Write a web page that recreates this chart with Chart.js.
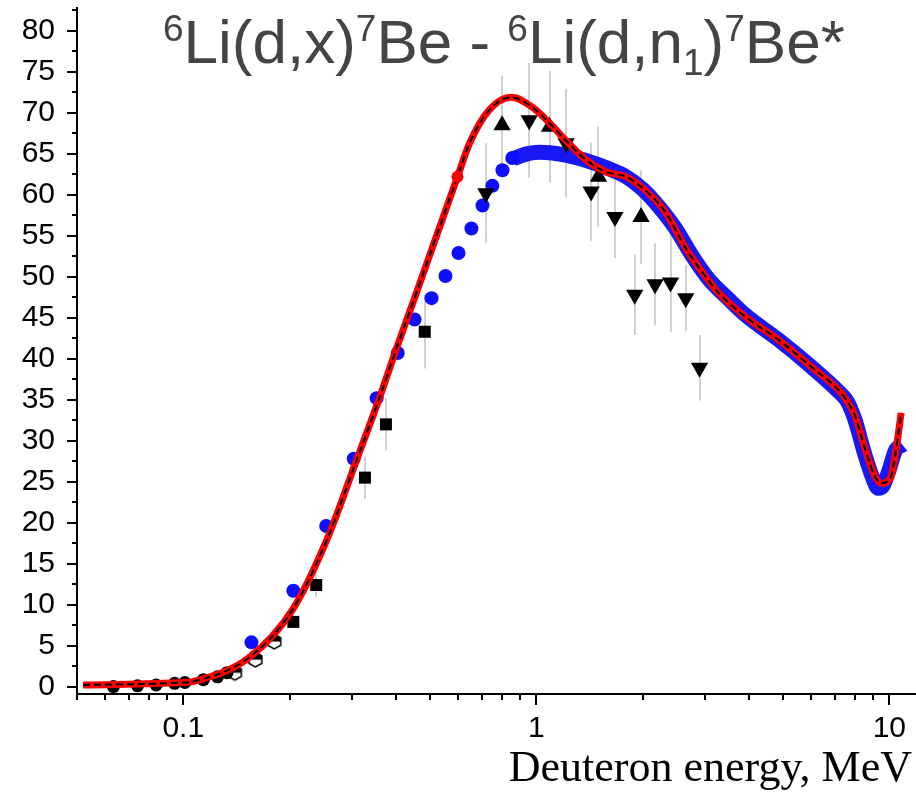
<!DOCTYPE html>
<html>
<head>
<meta charset="utf-8">
<script src="https://cdn.jsdelivr.net/npm/chart.js@4.4.1/dist/chart.umd.min.js"></script>
<style>
  html, body { margin: 0; padding: 0; background: #fff; }
</style>
</head>
<body>
<canvas id="chart" width="916" height="797"></canvas>
<script>
// evaluated curve (red, with black dashed overlay)
const evalE = [0.052, 0.10, 0.106, 0.153, 0.204, 0.255, 0.31, 0.36, 0.402, 0.452, 0.508, 0.598, 0.647, 0.737, 0.85, 0.974, 1.088, 1.215, 1.38, 1.58, 1.80, 2.08, 2.33, 2.65, 3.02, 3.29, 3.92, 4.86, 6.02, 7.18, 7.55, 8.0, 8.55, 9.12, 9.49, 10.1, 10.45, 10.8];
const evalXs = [0.2, 0.5, 0.6, 3.5, 9.4, 17.9, 27.7, 35.3, 41.3, 47.4, 53.6, 62.2, 66.3, 70.4, 71.9, 70.7, 68.8, 66.6, 64.3, 62.8, 62.2, 60.2, 57.8, 53.5, 50.0, 48.0, 45.1, 42.3, 39.0, 36.2, 35.0, 33.0, 28.9, 25.6, 24.8, 25.6, 28.9, 33.4];
const redDotE = [0.598];
const redDotXs = [62.2];

// blue circles (sparse part) and dense blue band
const blueE = [0.156, 0.205, 0.254, 0.304, 0.353, 0.405, 0.452, 0.505, 0.553, 0.602, 0.655, 0.704, 0.751, 0.802, 0.855];
const blueXs = [5.4, 11.7, 19.6, 27.8, 35.2, 40.7, 44.8, 47.4, 50.1, 52.9, 55.9, 58.7, 61.1, 63.0, 64.5];
const bandE = [0.86, 0.94, 1.02, 1.11, 1.22, 1.38, 1.58, 1.80, 2.0, 2.22, 2.48, 2.76, 3.08, 3.5, 3.92, 4.86, 6.02, 7.18, 7.6, 8.0, 8.5, 9.0, 9.3, 9.6, 10.0, 10.4, 10.9];
const bandXs = [64.4, 65.0, 65.2, 65.1, 64.8, 64.2, 63.3, 62.2, 60.7, 58.6, 55.9, 52.6, 49.7, 47.3, 45.3, 42.3, 39.0, 36.0, 34.8, 32.5, 28.5, 25.3, 24.2, 24.5, 26.5, 28.8, 29.5];

// experimental points
const squareE = [0.205, 0.238, 0.327, 0.375, 0.483];
const squareXs = [7.9, 12.4, 25.5, 32.0, 43.3];
const squareErr = [0.5, 1.5, 2.6, 3.2, 4.5];

const upE = [0.80, 1.09, 1.50, 1.98];
const upXs = [68.5, 68.3, 62.2, 57.3];
const upErr = [6.0, 6.8, 6.1, 5.7];

const downE = [0.72, 0.955, 1.215, 1.43, 1.67, 1.90, 2.17, 2.40, 2.65, 2.90];
const downXs = [60.2, 69.1, 66.3, 60.4, 57.3, 47.8, 49.1, 49.3, 47.4, 38.9];
const downErr = [6.1, 7.0, 6.6, 6.0, 5.0, 4.9, 5.0, 6.0, 4.0, 4.0];

const circleE = [0.0634, 0.0742, 0.0838, 0.0945, 0.101, 0.114, 0.125, 0.133];
const circleXs = [0.0, 0.1, 0.2, 0.4, 0.5, 0.85, 1.2, 1.7];

const hexE = [0.14, 0.16, 0.181];
const hexXs = [1.7, 3.3, 5.5];

// axes
const xTicks = [0.1, 1, 10];
const xTickLabels = ['0.1', '1', '10'];
const xMinor = [0.05, 0.06, 0.07, 0.08, 0.09, 0.2, 0.3, 0.4, 0.5, 0.6, 0.7, 0.8, 0.9, 2, 3, 4, 5, 6, 7, 8, 9];
const yTicks = [0, 5, 10, 15, 20, 25, 30, 35, 40, 45, 50, 55, 60, 65, 70, 75, 80];
const yMinor = [2.5, 7.5, 12.5, 17.5, 22.5, 27.5, 32.5, 37.5, 42.5, 47.5, 52.5, 57.5, 62.5, 67.5, 72.5, 77.5, 82.5];

const titleParts = [['6', 'sup'], ['Li(d,x)', ''], ['7', 'sup'], ['Be - ', ''], ['6', 'sup'], ['Li(d,n', ''], ['1', 'sub'], [')', ''], ['7', 'sup'], ['Be*', '']];
const xTitle = 'Deuteron energy, MeV';

const pts = (xs, ys) => xs.map((x, i) => ({x: x, y: ys[i]}));

function makeHex(r) {
  const c = document.createElement('canvas');
  const s = Math.ceil(r * 2 + 4);
  c.width = s;
  c.height = s;
  const g = c.getContext('2d');
  const cx = s / 2, cy = s / 2;
  g.beginPath();
  for (let i = 0; i < 6; i++) {
    const a = Math.PI / 180 * (60 * i - 90);
    const px = cx + r * Math.cos(a), py = cy + r * Math.sin(a);
    if (i) g.lineTo(px, py); else g.moveTo(px, py);
  }
  g.closePath();
  g.fillStyle = '#fff';
  g.fill();
  g.save();
  g.clip();
  g.fillStyle = '#000';
  g.fillRect(0, 0, s, cy);
  g.restore();
  g.lineWidth = 1.5;
  g.strokeStyle = '#000';
  g.stroke();
  return c;
}

const errorSets = [
  {e: squareE, v: squareXs, d: squareErr},
  {e: upE, v: upXs, d: upErr},
  {e: downE, v: downXs, d: downErr}
];

const errorBars = {
  id: 'errorBars',
  beforeDatasetsDraw(chart) {
    const {ctx, chartArea, scales: {x, y}} = chart;
    ctx.save();
    ctx.beginPath();
    ctx.rect(chartArea.left, chartArea.top, chartArea.right - chartArea.left, chartArea.bottom - chartArea.top);
    ctx.clip();
    ctx.strokeStyle = '#cfcfcf';
    ctx.lineWidth = 2;
    errorSets.forEach(set => {
      set.e.forEach((e, i) => {
        const px = Math.round(x.getPixelForValue(e));
        ctx.beginPath();
        ctx.moveTo(px, y.getPixelForValue(set.v[i] - set.d[i]));
        ctx.lineTo(px, y.getPixelForValue(set.v[i] + set.d[i]));
        ctx.stroke();
      });
    });
    ctx.restore();
  }
};

const tickMarks = {
  id: 'tickMarks',
  afterDraw(chart) {
    const {ctx, chartArea, scales: {x, y}} = chart;
    ctx.save();
    ctx.strokeStyle = '#000';
    ctx.lineWidth = 2;
    const vline = (px, len) => {
      ctx.beginPath();
      ctx.moveTo(px, chartArea.bottom);
      ctx.lineTo(px, chartArea.bottom + len);
      ctx.stroke();
    };
    const hline = (py, len) => {
      ctx.beginPath();
      ctx.moveTo(chartArea.left, py);
      ctx.lineTo(chartArea.left - len, py);
      ctx.stroke();
    };
    xTicks.forEach(v => vline(Math.round(x.getPixelForValue(v)), 11));
    xMinor.forEach(v => vline(Math.round(x.getPixelForValue(v)), 6));
    yTicks.forEach(v => hline(Math.round(y.getPixelForValue(v)), 10));
    yMinor.forEach(v => hline(Math.round(y.getPixelForValue(v)), 5));

    // title with super/subscripts
    const S = 62;
    let cx = 163;
    const base = 63;
    ctx.fillStyle = '#444';
    ctx.textBaseline = 'alphabetic';
    ctx.textAlign = 'left';
    titleParts.forEach(([t, kind]) => {
      if (kind) {
        ctx.font = Math.round(S * 0.6) + 'px "Liberation Sans", Arial, sans-serif';
        ctx.fillText(t, cx, kind === 'sup' ? base - S * 0.36 : base + S * 0.2);
      } else {
        ctx.font = S + 'px "Liberation Sans", Arial, sans-serif';
        ctx.fillText(t, cx, base);
      }
      cx += ctx.measureText(t).width;
    });

    // x axis title
    ctx.fillStyle = '#000';
    ctx.font = '44px "Liberation Serif", "Times New Roman", serif';
    ctx.textAlign = 'right';
    ctx.fillText(xTitle, 912, 781);
    ctx.restore();
  }
};

new Chart(document.getElementById('chart'), {
  type: 'scatter',
  data: {
    datasets: [
      {
        data: pts(redDotE, redDotXs),
        pointRadius: 6, pointStyle: 'circle',
        backgroundColor: '#ff0000', borderColor: '#ff0000', borderWidth: 0,
        order: 0
      },
      {
        data: pts(evalE, evalXs),
        showLine: true, pointRadius: 0,
        borderColor: '#000', borderWidth: 2, borderDash: [7, 4],
        cubicInterpolationMode: 'monotone',
        order: 1
      },
      {
        data: pts(evalE, evalXs),
        showLine: true, pointRadius: 0,
        borderColor: '#ff0000', borderWidth: 7,
        cubicInterpolationMode: 'monotone',
        order: 2
      },
      {
        data: pts(upE, upXs),
        pointStyle: 'triangle', pointRadius: 10,
        backgroundColor: '#000', borderColor: '#000', borderWidth: 0,
        order: 3
      },
      {
        data: pts(downE, downXs),
        pointStyle: 'triangle', rotation: 180, pointRadius: 10,
        backgroundColor: '#000', borderColor: '#000', borderWidth: 0,
        order: 4
      },
      {
        data: pts(squareE, squareXs),
        pointStyle: 'rect', pointRadius: 8.5,
        backgroundColor: '#000', borderColor: '#000', borderWidth: 0,
        order: 5
      },
      {
        data: pts(blueE, blueXs),
        pointStyle: 'circle', pointRadius: 7,
        backgroundColor: '#0d0dff', borderColor: '#0d0dff', borderWidth: 0,
        order: 6
      },
      {
        data: pts(bandE, bandXs),
        showLine: true, pointRadius: 0,
        borderColor: '#1818f5', borderWidth: 15,
        cubicInterpolationMode: 'monotone',
        order: 7
      },
      {
        data: pts(circleE, circleXs),
        pointStyle: 'circle', pointRadius: 6.5,
        backgroundColor: '#000', borderColor: '#000', borderWidth: 0,
        order: 8
      },
      {
        data: pts(hexE, hexXs),
        pointStyle: makeHex(7.5), pointRadius: 7.5,
        order: 9
      }
    ]
  },
  options: {
    responsive: false,
    animation: false,
    devicePixelRatio: 1,
    layout: {autoPadding: false, padding: {top: 8, right: 0, left: 0, bottom: 0}},
    plugins: {legend: {display: false}, tooltip: {enabled: false}},
    scales: {
      x: {
        type: 'logarithmic',
        min: 0.05,
        max: 11.9,
        border: {display: true, color: '#000', width: 2},
        grid: {display: false, drawTicks: false},
        ticks: {
          padding: 17,
          autoSkip: false,
          maxRotation: 0,
          color: '#000',
          font: {family: '"Liberation Sans", Arial, sans-serif', size: 30},
          callback: (v, i) => xTickLabels[i]
        },
        afterBuildTicks: s => { s.ticks = xTicks.map(v => ({value: v})); },
        afterFit: s => {
          s.height = 103;
          s.paddingLeft = 0; s.paddingRight = 0;
        }
      },
      y: {
        min: -0.9,
        max: 82.8,
        border: {display: true, color: '#000', width: 2},
        grid: {display: false, drawTicks: false},
        ticks: {
          padding: 22,
          color: '#000',
          font: {family: '"Liberation Sans", Arial, sans-serif', size: 30}
        },
        afterBuildTicks: s => { s.ticks = yTicks.map(v => ({value: v})); },
        afterFit: s => {
          s.width = 77;
          s.paddingTop = 0; s.paddingBottom = 0;
        }
      }
    }
  },
  plugins: [errorBars, tickMarks]
});
</script>
</body>
</html>
